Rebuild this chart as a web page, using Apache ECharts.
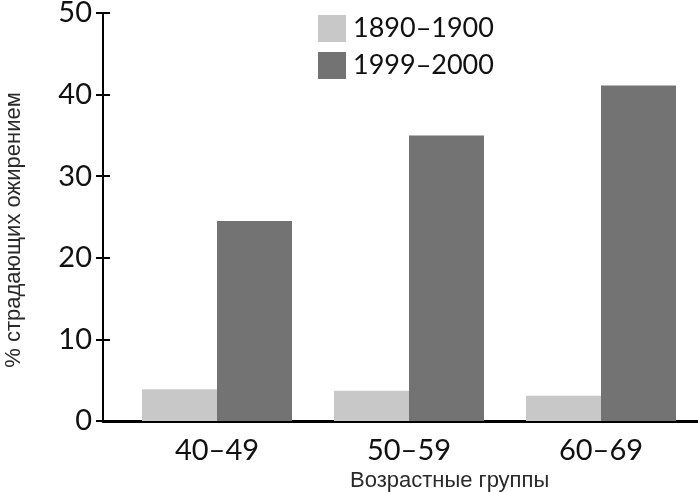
<!DOCTYPE html>
<html><head><meta charset="utf-8">
<script src="https://cdn.jsdelivr.net/npm/echarts@6/dist/echarts.min.js"></script>
<style>html,body{margin:0;padding:0;background:#fff}#c{width:698px;height:492px}</style>
</head><body><div id="c"></div>
<script>
const categories = ['40–49', '50–59', '60–69'];
const series1890 = [3.9, 3.7, 3.1];
const series1999 = [24.5, 35.0, 41.1];
const seriesNames = ['1890–1900', '1999–2000'];
const yTicks = [0, 10, 20, 30, 40, 50];

const chart = echarts.init(document.getElementById('c'));
const gridTop = 13, gridBottom = 71;
chart.setOption({
  animation: false,
  title: {
    text: 'Возрастные группы',
    left: 345, top: 465,
    textStyle: {fontFamily: 'Liberation Sans', fontSize: 22, fontWeight: 'normal', color: '#2a2a2a'}
  },
  legend: {
    orient: 'vertical', left: 313, top: 10,
    itemWidth: 28, itemHeight: 27, itemGap: 10,
    icon: 'rect',
    textStyle: {fontFamily: 'Lato', fontSize: 27, color: '#111', padding: [0,0,0,2]},
    data: seriesNames
  },
  grid: [
    {left: 103, right: 0, top: gridTop, bottom: gridBottom, outerBoundsMode: 'none', containLabel: false},
    {left: 121, right: 1, top: gridTop, bottom: gridBottom, outerBoundsMode: 'none', containLabel: false}
  ],
  xAxis: [
    {type: 'category', gridIndex: 0, data: categories,
     axisLine: {lineStyle: {color: '#000', width: 3}}, axisTick: {show: false}, axisLabel: {show: false}},
    {type: 'category', gridIndex: 1, data: categories,
     axisLine: {show: false}, axisTick: {show: false},
     axisLabel: {fontFamily: 'Lato', fontSize: 29, color: '#111', margin: 15}}
  ],
  yAxis: [
    {type: 'value', gridIndex: 0, min: 0, max: 50, interval: 10,
     name: '% страдающих ожирением', nameLocation: 'middle', nameGap: 78, nameRotate: 90,
     nameTextStyle: {fontFamily: 'Liberation Sans', fontSize: 22, color: '#2a2a2a', padding: [0,0,0,-26]},
     axisLine: {show: true, lineStyle: {color: '#000', width: 2}},
     axisTick: {show: true, length: 7, lineStyle: {color: '#000', width: 2}},
     axisLabel: {fontFamily: 'Lato', fontSize: 29, color: '#111', margin: 11},
     splitLine: {show: false}},
    {type: 'value', gridIndex: 0, min: 0, max: 50, interval: 10, position: 'left',
     axisLine: {show: false},
     axisTick: {show: true, inside: true, length: 7, lineStyle: {color: '#000', width: 2}},
     axisLabel: {show: false}, splitLine: {show: false}},
    {type: 'value', gridIndex: 1, min: 0, max: 50, interval: 10, show: false}
  ],
  series: [
    {name: seriesNames[0], type: 'bar', xAxisIndex: 1, yAxisIndex: 2, data: series1890,
     barWidth: 75, barGap: '0%', itemStyle: {color: '#c8c8c8'}},
    {name: seriesNames[1], type: 'bar', xAxisIndex: 1, yAxisIndex: 2, data: series1999,
     barWidth: 75, barGap: '0%', itemStyle: {color: '#737373'}}
  ]
});
</script></body></html>
